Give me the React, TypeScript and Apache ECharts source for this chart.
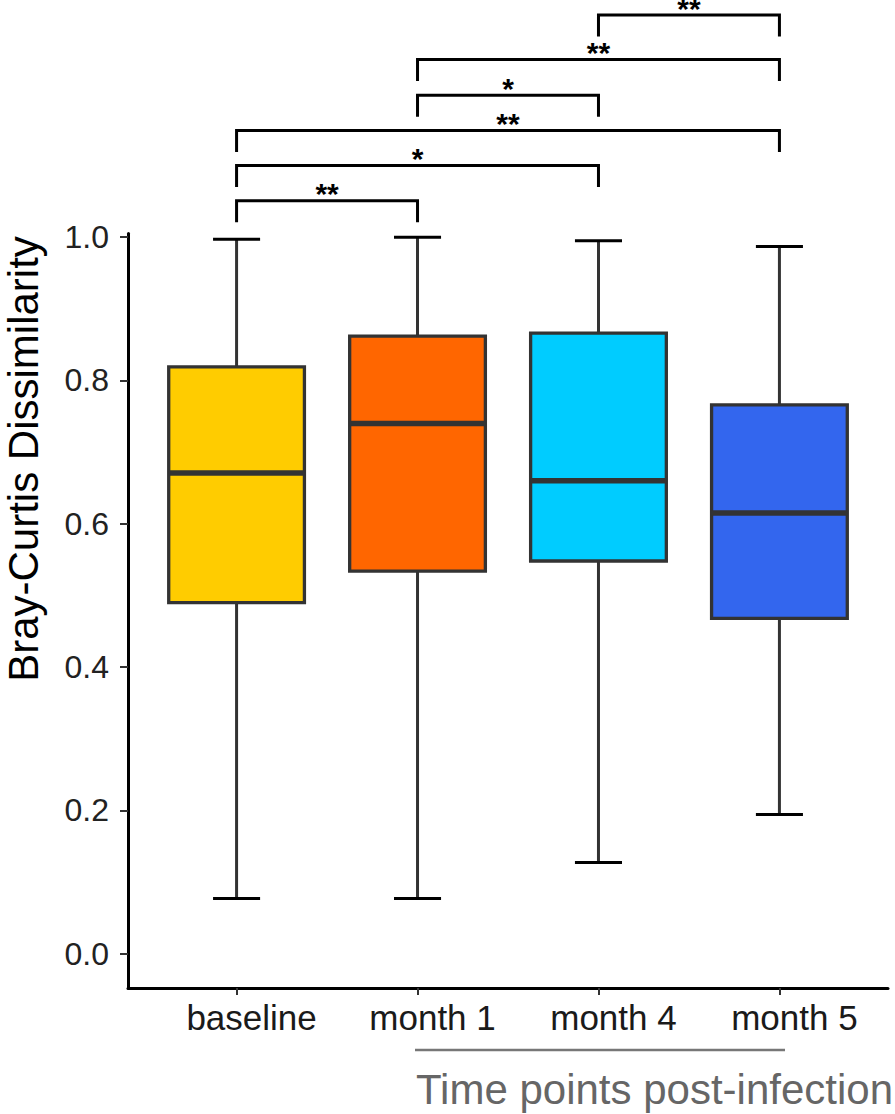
import React, { useEffect, useRef } from "react";
import * as echarts from "echarts";

const categories = ["baseline", "month 1", "month 4", "month 5"];
const whiskerLow = [0.077, 0.077, 0.127, 0.194];
const q1 = [0.49, 0.534, 0.548, 0.468];
const median = [0.671, 0.74, 0.66, 0.615];
const q3 = [0.819, 0.862, 0.866, 0.766];
const whiskerHigh = [0.997, 1.0, 0.995, 0.987];
const boxColors = ["#FFCC00", "#FF6600", "#00CCFF", "#3366EE"];
const yTicks = [0, 0.2, 0.4, 0.6, 0.8, 1.0];

const bracketFrom = [0, 0, 0, 1, 1, 2];
const bracketTo = [1, 2, 3, 2, 3, 3];
const bracketY = [1.051, 1.1, 1.149, 1.198, 1.248, 1.31];
const bracketLabel = ["**", "*", "**", "*", "**", "**"];

const FONT = "'Liberation Sans', Arial, Helvetica, sans-serif";

export default function App() {
  const ref = useRef<HTMLDivElement>(null);
  useEffect(() => {
    if (!ref.current) return;
    const chart = echarts.init(ref.current, null, { renderer: "svg" });
    const boxData = categories.map((_, i) => [
      i + 1,
      whiskerLow[i],
      q1[i],
      median[i],
      q3[i],
      whiskerHigh[i],
    ]);
    const bracketData = bracketFrom.map((f, i) => [f + 1, bracketTo[i] + 1, bracketY[i], i]);
    const halfBox = 0.375;
    const halfCap = 0.13;
    const tip = 0.03;
    chart.setOption({
      animation: false,
      textStyle: { fontFamily: FONT },
      grid: { left: 128, right: 7, top: 233.6, bottom: 126 },
      xAxis: {
        type: "value",
        min: 0.4,
        max: 4.6,
        splitLine: { show: false },
        axisLine: { show: true, onZero: false, lineStyle: { color: "#000", width: 3 } },
        axisTick: {
          show: true,
          customValues: [1, 2, 3, 4],
          length: 7,
          lineStyle: { color: "#333", width: 2 },
        },
        axisLabel: {
          customValues: [1, 2, 3, 4],
          formatter: (v: number) => categories[Math.round(v) - 1] ?? "",
          fontSize: 35,
          color: "#1a1a1a",
          margin: 12,
          padding: [0, 0, 0, 30],
          fontFamily: FONT,
        },
      },
      yAxis: {
        type: "value",
        min: -0.048,
        max: 1.005,
        splitLine: { show: false },
        axisLine: { show: true, onZero: false, lineStyle: { color: "#000", width: 3 } },
        axisTick: {
          show: true,
          customValues: yTicks,
          length: 8,
          lineStyle: { color: "#333", width: 2 },
        },
        axisLabel: {
          customValues: yTicks,
          formatter: (v: number) => v.toFixed(1),
          fontSize: 32,
          color: "#222",
          margin: 19,
          fontFamily: FONT,
        },
      },
      series: [
        {
          type: "custom",
          data: boxData,
          encode: { x: 0, y: [1, 2, 3, 4, 5] },
          renderItem: (params: any, api: any) => {
            const x = api.value(0);
            const i = params.dataIndex;
            const pLow = api.coord([x, api.value(1)]);
            const pQ1 = api.coord([x, api.value(2)]);
            const pMed = api.coord([x, api.value(3)]);
            const pQ3 = api.coord([x, api.value(4)]);
            const pHigh = api.coord([x, api.value(5)]);
            const left = api.coord([x - halfBox, 0])[0];
            const right = api.coord([x + halfBox, 0])[0];
            const capL = api.coord([x - halfCap, 0])[0];
            const capR = api.coord([x + halfCap, 0])[0];
            const cx = pLow[0];
            const line = (x1: number, y1: number, x2: number, y2: number, color: string, w: number) => ({
              type: "line",
              shape: { x1, y1, x2, y2 },
              style: { stroke: color, lineWidth: w },
            });
            return {
              type: "group",
              children: [
                line(cx, pLow[1], cx, pQ1[1], "#333", 3),
                line(cx, pQ3[1], cx, pHigh[1], "#333", 3),
                line(capL, pLow[1], capR, pLow[1], "#000", 3),
                line(capL, pHigh[1], capR, pHigh[1], "#000", 3),
                {
                  type: "rect",
                  shape: { x: left, y: pQ3[1], width: right - left, height: pQ1[1] - pQ3[1] },
                  style: { fill: boxColors[i], stroke: "#333", lineWidth: 3.3 },
                },
                line(left, pMed[1], right, pMed[1], "#333", 5.5),
              ],
            };
          },
        },
        {
          type: "custom",
          clip: false,
          data: bracketData,
          encode: { x: 0, y: 2 },
          renderItem: (params: any, api: any) => {
            const a = api.value(0);
            const b = api.value(1);
            const y = api.value(2);
            const idx = api.value(3);
            const p1 = api.coord([a, y]);
            const p2 = api.coord([b, y]);
            const p1t = api.coord([a, y - tip]);
            return {
              type: "group",
              children: [
                {
                  type: "polyline",
                  shape: {
                    points: [
                      [p1[0], p1t[1]],
                      [p1[0], p1[1]],
                      [p2[0], p2[1]],
                      [p2[0], p1t[1]],
                    ],
                  },
                  style: { stroke: "#000", lineWidth: 3, fill: null },
                },
                {
                  type: "text",
                  x: (p1[0] + p2[0]) / 2,
                  y: p1[1] - 7,
                  style: {
                    text: bracketLabel[idx],
                    fontSize: 30,
                    lineHeight: 16,
                    fontWeight: "bold",
                    fontFamily: FONT,
                    fill: "#000",
                    align: "center",
                    verticalAlign: "middle",
                  },
                },
              ],
            };
          },
        },
      ],
      graphic: [
        {
          type: "line",
          shape: { x1: 415, y1: 1050, x2: 785, y2: 1050 },
          style: { stroke: "#777", lineWidth: 2.5 },
        },
        {
          type: "text",
          x: 416,
          y: 1089,
          style: {
            text: "Time points post-infection",
            fontSize: 42,
            fontFamily: FONT,
            fill: "#666",
            align: "left",
            verticalAlign: "middle",
          },
        },
        {
          type: "text",
          x: 23,
          y: 459,
          rotation: Math.PI / 2,
          style: {
            text: "Bray-Curtis Dissimilarity",
            fontSize: 42,
            fontFamily: FONT,
            fill: "#000",
            align: "center",
            verticalAlign: "middle",
          },
        },
      ],
    });
    return () => chart.dispose();
  }, []);
  return (
    <div
      ref={ref}
      style={{ position: "fixed", left: 0, top: 0, width: 895, height: 1114, background: "#fff" }}
    />
  );
}
